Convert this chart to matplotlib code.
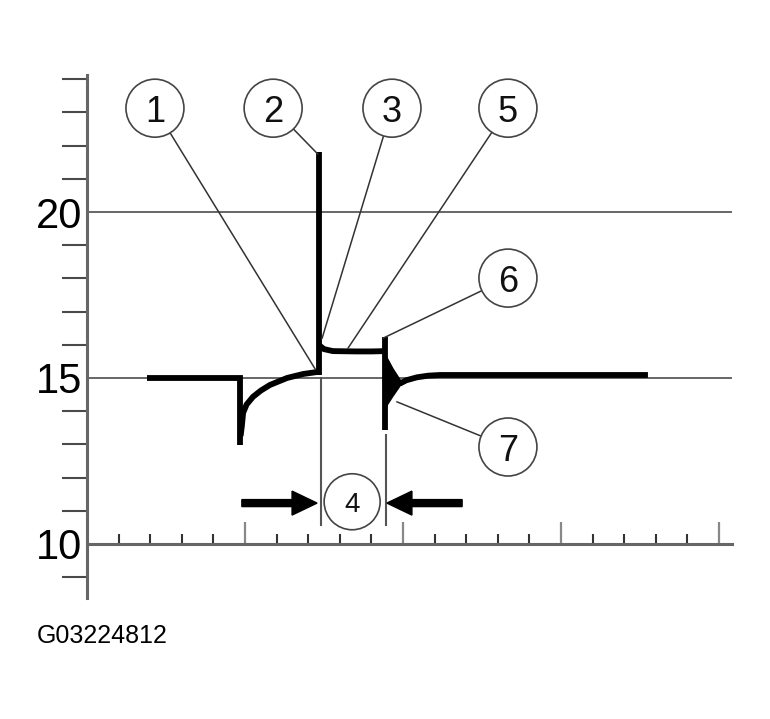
import numpy as np
import matplotlib.pyplot as plt
from matplotlib.patches import Ellipse, Polygon

plt.rcParams['font.family'] = ['Liberation Sans', 'DejaVu Sans']

# waveform pieces (x in divisions, y in volts)
base_x = [1.9, 4.84, 4.84]
base_y = [15.0, 15.0, 12.98]
recover_x = [4.86, 4.90, 4.94, 5.05, 5.25, 5.5, 5.79, 6.33, 6.84, 7.28, 7.36]
recover_y = [13.25, 13.55, 13.95, 14.2, 14.43, 14.62, 14.79, 15.0, 15.12, 15.18, 15.2]
spike_x = [7.34, 7.34]
spike_y = [15.1, 21.8]
plateau_x = [7.34, 7.5, 7.78, 8.5, 9.0, 9.45]
plateau_y = [15.99, 15.87, 15.81, 15.8, 15.8, 15.81]
drop_x = [9.43, 9.43]
drop_y = [16.23, 13.43]
ring_x = [9.43, 9.68, 9.97, 9.68, 9.43]
ring_y = [15.72, 15.28, 14.85, 14.45, 14.08]
settle_x = [9.9, 10.1, 10.44, 10.8, 11.17, 11.8, 17.75]
settle_y = [14.83, 14.93, 15.02, 15.07, 15.09, 15.09, 15.09]

# dimension markers for (4)
dim_x = [7.4, 9.46]
dim_top = [15.0, 13.28]
dim_bottom = 10.57
arrow_y = 11.23
arrow_left = [4.9, 7.28]
arrow_right = [11.87, 9.49]

# callouts: label, circle centre, leader target
callout_labels = ['1', '2', '3', '5', '6', '7']
callout_cx = [2.15, 5.89, 9.65, 13.32, 13.32, 13.32]
callout_cy = [23.13, 23.13, 23.13, 23.13, 18.01, 12.92]
target_x = [7.22, 7.30, 7.44, 8.26, 9.37, 9.81]
target_y = [15.27, 21.75, 16.2, 15.9, 16.2, 14.28]
dim_label = '4'
dim_cx, dim_cy = 8.39, 11.27

y_labels = [10, 15, 20]
y_minor = [9, 11, 12, 13, 14, 16, 17, 18, 19, 21, 22, 23, 24]
x_major = [5, 10, 15, 20]
x_minor = [1, 2, 3, 4, 6, 7, 8, 9, 11, 12, 13, 14, 16, 17, 18, 19]

W, H = 770, 719
fig = plt.figure(figsize=(W / 100, H / 100), dpi=100)
ax = fig.add_axes([87 / W, 1 - 598 / H, (732 - 87) / W, (598 - 75) / H])
ax.set_xlim(0, 20.41)
ax.set_ylim(8.37, 24.13)
sx = (732 - 87) / 20.41
sy = (598 - 75) / (24.13 - 8.37)

for s in ['top', 'right']:
    ax.spines[s].set_visible(False)
ax.spines['left'].set_color('#666666')
ax.spines['left'].set_linewidth(2.2)
ax.spines['bottom'].set_position(('data', 10))
ax.spines['bottom'].set_color('#666666')
ax.spines['bottom'].set_linewidth(2.2)

ax.set_yticks(y_labels)
ax.set_yticklabels([str(v) for v in y_labels])
ax.set_yticks(y_minor, minor=True)
ax.tick_params(axis='y', which='major', length=0, pad=3.5, labelsize=30)
ax.tick_params(axis='y', which='minor', length=18, width=1.5, color='#4a4a4a',
               direction='out')
ax.set_xticks(x_major)
ax.set_xticks(x_minor, minor=True)
ax.tick_params(axis='x', which='major', length=16, width=1.6, color='#888888',
               direction='in', labelbottom=False)
ax.tick_params(axis='x', which='minor', length=7, width=1.5, color='#333333',
               direction='in')
for v in [15, 20]:
    ax.axhline(v, color='#666666', lw=1.4, zorder=1)

wave = dict(color='black', lw=4.2, solid_capstyle='butt', solid_joinstyle='miter', zorder=3)
ax.plot(base_x, base_y, **wave)
ax.plot(recover_x, recover_y, **wave)
ax.plot(spike_x, spike_y, **wave)
ax.plot(plateau_x, plateau_y, **wave)
ax.plot(drop_x, drop_y, **wave)
ax.add_patch(Polygon(np.column_stack([ring_x, ring_y]), closed=True,
                     color='black', zorder=3))
ax.plot(settle_x, settle_y, **wave)

for x, t in zip(dim_x, dim_top):
    ax.plot([x, x], [t, dim_bottom], color='#555555', lw=1.5, zorder=2)

hw = 24 / sy
hl = 25 / sx
sw = 7 / sy
for a, b in [arrow_left, arrow_right]:
    ax.arrow(a, arrow_y, b - a, 0, width=sw, head_width=hw, head_length=hl,
             length_includes_head=True, color='black', zorder=3)

r = 29


def circle(cx, cy, label, size, rad):
    ax.add_patch(Ellipse((cx, cy), 2 * rad / sx, 2 * rad / sy, facecolor='white',
                         edgecolor='#444444', lw=1.2, zorder=4))
    ax.text(cx, cy, label, ha='center', va='center_baseline', fontsize=size,
            color='#111111', zorder=5)


for lab, cx, cy, tx, ty in zip(callout_labels, callout_cx, callout_cy, target_x, target_y):
    dx, dy = (tx - cx) * sx, (ty - cy) * sy
    d = np.hypot(dx, dy)
    ux, uy = cx + r * dx / d / sx, cy + r * dy / d / sy
    ax.plot([ux, tx], [uy, ty], color='#333333', lw=1.1, zorder=4)
    circle(cx, cy, lab, 26, r)

circle(dim_cx, dim_cy, dim_label, 20, 28)

fig.text(37 / W, 1 - 643 / H, 'G03224812', fontsize=18, ha='left', va='baseline')

fig.savefig('out.png', dpi=100)
